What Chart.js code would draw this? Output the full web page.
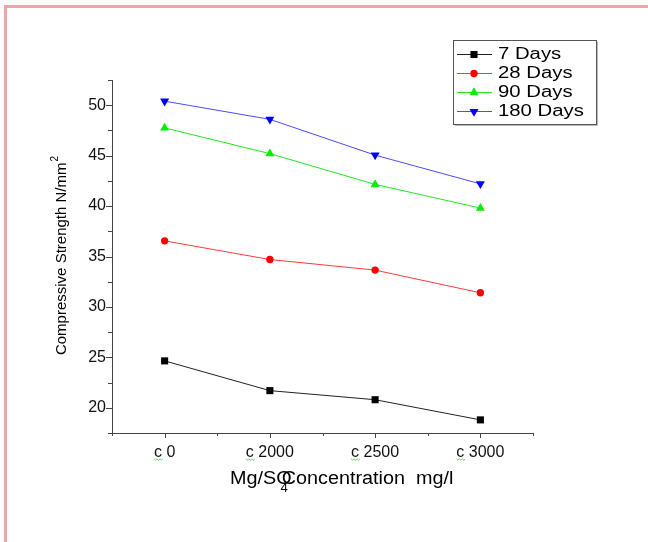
<!DOCTYPE html>
<html>
<head>
<meta charset="utf-8">
<script src="https://cdn.jsdelivr.net/npm/chart.js@4.4.0/dist/chart.umd.min.js"></script>
<style>
  html, body { margin: 0; padding: 0; background: #fff; }
  #wrap { position: relative; width: 648px; height: 542px; overflow: hidden; }
  #frame { position: absolute; left: 4px; top: 5px; right: -10px; bottom: -10px;
           border-top: 3px solid #e8a8a8; border-left: 3px solid #e8a8a8; pointer-events: none; }
  canvas { position: absolute; left: 0; top: 0; }
</style>
</head>
<body>
<div id="wrap"><canvas id="chart" width="648" height="542"></canvas><div id="frame"></div></div>
<script>
const categories = ["c 0", "c 2000", "c 2500", "c 3000"];
const seriesNames = ["7 Days", "28 Days", "90 Days", "180 Days"];
const days7 = [24.65, 21.7, 20.8, 18.8];
const days28 = [36.55, 34.7, 33.65, 31.4];
const days90 = [47.75, 45.2, 42.15, 39.8];
const days180 = [50.4, 48.6, 45.05, 42.2];
const yTicks = [20, 25, 30, 35, 40, 45, 50];

const toPoints = vals => vals.map((v, i) => ({ x: i, y: v }));
const tickFont = { family: "Liberation Sans", size: 16 };

function series(label, vals, line, fill, style, radius, rotation) {
  return {
    label, data: toPoints(vals),
    borderColor: line, borderWidth: 1, backgroundColor: fill,
    pointStyle: style, pointRadius: radius, pointRotation: rotation,
    pointBackgroundColor: fill, pointBorderColor: fill, pointBorderWidth: 0
  };
}

const extras = {
  id: "extras",
  afterDraw(chart) {
    const ctx = chart.ctx;
    const xs = chart.scales.x, ys = chart.scales.y;
    const area = chart.chartArea;
    ctx.save();

    // tick marks, major and minor
    ctx.strokeStyle = "#444";
    ctx.lineWidth = 1;
    for (let v = -0.5; v <= 3.5; v += 0.5) {
      const px = Math.round(xs.getPixelForValue(v)) + 0.5;
      const len = Number.isInteger(v) ? 5 : 3;
      ctx.beginPath(); ctx.moveTo(px, area.bottom); ctx.lineTo(px, area.bottom + len); ctx.stroke();
    }
    for (let v = 17.5; v <= 52.5; v += 2.5) {
      const py = Math.round(ys.getPixelForValue(v)) + 0.5;
      const len = v % 5 === 0 ? 6 : 4;
      ctx.beginPath(); ctx.moveTo(area.left, py); ctx.lineTo(area.left - len, py); ctx.stroke();
    }

    // green squiggles under the "c"
    ctx.font = tickFont.size + "px " + tickFont.family;
    ctx.strokeStyle = "#66cc66";
    categories.forEach((lab, i) => {
      const px = xs.getPixelForValue(i);
      const w = ctx.measureText(lab).width;
      const cw = ctx.measureText("c").width;
      const x0 = px - w / 2, y0 = 459;
      ctx.beginPath();
      for (let k = 0; k <= Math.ceil(cw / 1.5); k++) {
        const xx = x0 + k * 1.5, yy = y0 + (k % 2 ? 1.2 : -0.2);
        if (k === 0) ctx.moveTo(xx, yy); else ctx.lineTo(xx, yy);
      }
      ctx.stroke();
    });

    // y axis title
    ctx.fillStyle = "#000";
    ctx.save();
    ctx.translate(62, 256);
    ctx.rotate(-Math.PI / 2);
    ctx.font = "15px Liberation Sans";
    ctx.textBaseline = "middle";
    const yt = "Compressive Strength N/mm";
    const w1 = ctx.measureText(yt).width;
    ctx.font = "10px Liberation Sans";
    const w2 = ctx.measureText("2").width;
    const sx = -(w1 + w2) / 2;
    ctx.font = "15px Liberation Sans";
    ctx.fillText(yt, sx, 0);
    ctx.font = "10px Liberation Sans";
    ctx.fillText("2", sx + w1 + 1, -7);
    ctx.restore();

    // x axis title
    ctx.save();
    ctx.translate(230, 484);
    ctx.scale(1.1, 1);
    ctx.textBaseline = "alphabetic";
    ctx.font = "18px Liberation Sans";
    ctx.fillText("Mg/S", 0, 0);
    const m = ctx.measureText("Mg/S").width;
    ctx.fillText("O", m, 0);
    ctx.font = "12px Liberation Sans";
    ctx.fillText("4", m + 4, 8);
    ctx.font = "18px Liberation Sans";
    ctx.fillText("Concentration  mg/l", m + 5, 0);
    ctx.restore();

    // legend
    const bx = 453.5, by = 40.5, bw = 143, bh = 84;
    ctx.strokeStyle = "#bbb";
    ctx.beginPath();
    ctx.moveTo(bx + bw + 1, by + 1); ctx.lineTo(bx + bw + 1, by + bh + 1); ctx.lineTo(bx + 1, by + bh + 1);
    ctx.stroke();
    ctx.strokeStyle = "#555";
    ctx.strokeRect(bx, by, bw, bh);
    chart.data.datasets.forEach((ds, i) => {
      const y = 54 + i * 19;
      ctx.strokeStyle = ds.borderColor;
      ctx.lineWidth = 1;
      ctx.beginPath(); ctx.moveTo(457, y + 0.5); ctx.lineTo(492, y + 0.5); ctx.stroke();
      ctx.fillStyle = ds.pointBackgroundColor;
      ctx.strokeStyle = ds.pointBorderColor;
      Chart.helpers.drawPoint(ctx, { pointStyle: ds.pointStyle, radius: ds.pointRadius, rotation: ds.pointRotation, borderWidth: 0 }, 474, y + 0.5);
      ctx.save();
      ctx.translate(498, y + 1);
      ctx.scale(1.27, 1);
      ctx.fillStyle = "#000";
      ctx.font = "16px Liberation Sans";
      ctx.textBaseline = "middle";
      ctx.fillText(ds.label, 0, 0);
      ctx.restore();
    });

    ctx.restore();
  }
};

new Chart(document.getElementById("chart"), {
  type: "line",
  data: {
    datasets: [
      series(seriesNames[0], days7, "#222222", "#000000", "rect", 5, 0),
      series(seriesNames[1], days28, "#ff3a3a", "#ff0000", "circle", 3.7, 0),
      series(seriesNames[2], days90, "#22e622", "#00ee00", "triangle", 5.2, 0),
      series(seriesNames[3], days180, "#4a4aff", "#0000ff", "triangle", 5.2, 180)
    ]
  },
  options: {
    responsive: false,
    animation: false,
    devicePixelRatio: 1,
    layout: { padding: { left: 0, top: 80, right: 115, bottom: 0 } },
    plugins: { legend: { display: false }, tooltip: { enabled: false } },
    elements: { line: { tension: 0 } },
    scales: {
      x: {
        type: "linear", position: "bottom", min: -0.5, max: 3.5,
        grid: { display: false, drawTicks: false },
        border: { display: true, color: "#444", width: 1 },
        ticks: {
          stepSize: 0.5, autoSkip: false, maxRotation: 0, padding: 10,
          color: "#111", font: tickFont,
          callback: v => Number.isInteger(v) ? categories[v] : ""
        },
        afterFit: s => { s.height = 109; }
      },
      y: {
        min: 17.5, max: 52.5,
        grid: { display: false, drawTicks: false },
        border: { display: true, color: "#444", width: 1 },
        ticks: {
          stepSize: 2.5, autoSkip: false, padding: 6,
          color: "#111", font: tickFont,
          callback: v => yTicks.includes(v) ? String(v) : ""
        },
        afterFit: s => { s.width = 112; }
      }
    }
  },
  plugins: [extras]
});
</script>
</body>
</html>
